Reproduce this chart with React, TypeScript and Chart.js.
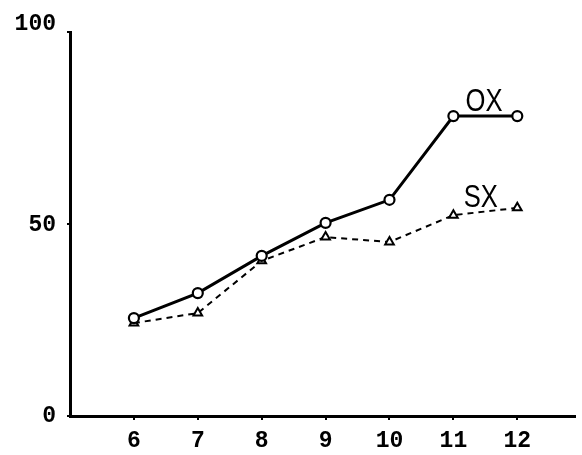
import React, { useEffect, useRef } from "react";
import { Chart, registerables } from "chart.js";

Chart.register(...registerables);

const ages = [6, 7, 8, 9, 10, 11, 12];
const oxValues = [25.5, 32, 41.7, 50.3, 56.3, 78.1, 78.1];
const sxValues = [24.2, 26.8, 40.4, 46.6, 45.3, 52.3, 54.2];
const yTickValues = [0, 50, 100];
const seriesNames = ["OX", "SX"];
const labelAtX = [11.48, 11.43];
const labelAtY = [82.3, 57.3];

const TICK_FONT = 'bold 23px "Liberation Mono"';

const seriesLabelPlugin = {
  id: "seriesLabels",
  afterDatasetsDraw(chart: any) {
    const { ctx, scales } = chart;
    seriesNames.forEach((name, i) => {
      const px = scales.x.getPixelForValue(labelAtX[i]);
      const py = scales.y.getPixelForValue(labelAtY[i]);
      ctx.save();
      ctx.translate(px, py);
      ctx.scale(0.8, 1);
      ctx.font = '32px "Liberation Sans"';
      ctx.fillStyle = "#000";
      ctx.textAlign = "center";
      ctx.textBaseline = "alphabetic";
      ctx.fillText(name, 0, 11.5);
      ctx.restore();
    });
    // y tick labels (top label sits a little above its tick, as in the source)
    const y = scales.y;
    ctx.save();
    ctx.font = TICK_FONT;
    ctx.fillStyle = "#000";
    ctx.textAlign = "right";
    ctx.textBaseline = "middle";
    yTickValues.forEach((v) => {
      const py = y.getPixelForValue(v) + (v === y.max ? -8 : v === 0 ? 0 : 1);
      ctx.fillText(String(v), y.right - 14, py);
    });
    ctx.restore();
  },
};

export default function App() {
  const ref = useRef<HTMLCanvasElement | null>(null);

  useEffect(() => {
    if (!ref.current) return;
    const chart = new Chart(ref.current, {
      type: "line",
      data: {
        datasets: [
          {
            label: "OX",
            data: ages.map((a, i) => ({ x: a, y: oxValues[i] })),
            borderColor: "#000",
            borderWidth: 3,
            pointStyle: "circle",
            pointRadius: 5,
            pointBackgroundColor: "#fff",
            pointBorderColor: "#000",
            pointBorderWidth: 2.2,
            tension: 0,
          },
          {
            label: "SX",
            data: ages.map((a, i) => ({ x: a, y: sxValues[i] })),
            borderColor: "#000",
            borderWidth: 2,
            borderDash: [6, 5],
            pointStyle: "triangle",
            pointRadius: 5,
            pointBackgroundColor: "#fff",
            pointBorderColor: "#000",
            pointBorderWidth: 2,
            tension: 0,
          },
        ],
      },
      options: {
        responsive: false,
        animation: false,
        devicePixelRatio: 1,
        layout: { padding: { top: 32, right: 0, bottom: 0, left: 0 } },
        plugins: {
          legend: { display: false },
          tooltip: { enabled: false },
        },
        scales: {
          x: {
            type: "linear",
            min: 5,
            max: 12.9,
            afterBuildTicks: (scale: any) => {
              scale.ticks = ages.map((v) => ({ value: v }));
            },
            afterFit: (scale: any) => {
              scale.height = 39;
            },
            border: { display: true, color: "#000", width: 3 },
            grid: {
              drawOnChartArea: false,
              drawTicks: true,
              tickLength: 4,
              color: "#000",
              lineWidth: 2,
            },
            ticks: {
              color: "#000",
              padding: 7,
              maxRotation: 0,
              autoSkip: false,
              font: { family: '"Liberation Mono"', size: 23, weight: "bold" },
              callback: (v: any) => String(v),
            },
          },
          y: {
            type: "linear",
            min: 0,
            max: 100,
            afterBuildTicks: (scale: any) => {
              scale.ticks = yTickValues.map((v) => ({ value: v }));
            },
            afterFit: (scale: any) => {
              scale.width = 70;
            },
            border: { display: true, color: "#000", width: 3 },
            grid: {
              drawOnChartArea: false,
              drawTicks: true,
              tickLength: 3,
              color: "#000",
              lineWidth: 2,
            },
            ticks: {
              color: "rgba(0,0,0,0)",
              padding: 11,
              font: { family: '"Liberation Mono"', size: 23, weight: "bold" },
              callback: (v: any) => String(v),
            },
          },
        },
      },
      plugins: [seriesLabelPlugin],
    } as any);
    return () => chart.destroy();
  }, []);

  return (
    <div style={{ position: "absolute", left: 0, top: 0, width: 582, height: 455, background: "#fff" }}>
      <canvas ref={ref} width={582} height={455} style={{ display: "block" }} />
    </div>
  );
}
